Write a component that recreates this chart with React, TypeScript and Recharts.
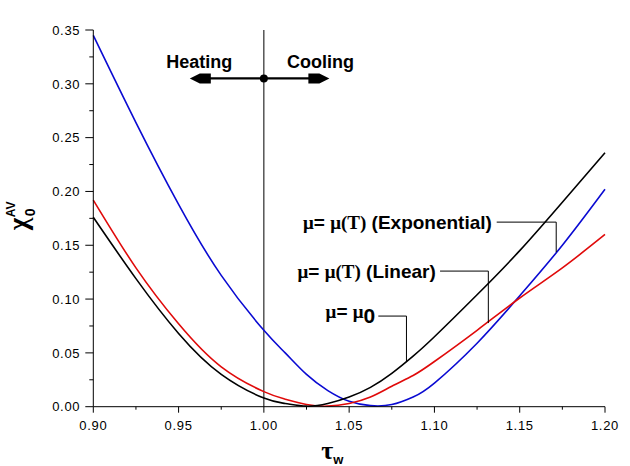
import React from 'react';
import { LineChart, Line, XAxis, YAxis, ReferenceLine, ReferenceDot } from 'recharts';

// tau_w values
const tauW = [0.9, 0.925, 0.95, 0.975, 1.0, 1.0125, 1.025, 1.0375, 1.05, 1.0625, 1.075, 1.0875, 1.1, 1.125, 1.15, 1.175, 1.2];
// mu = mu0 (black)
const muConst = [0.176, 0.119, 0.068, 0.030, 0.008, 0.003, 0.0005, 0.003, 0.009, 0.018, 0.031, 0.047, 0.065, 0.104, 0.145, 0.190, 0.236];
// mu = mu(T) linear (red)
const muLinear = [0.192, 0.129, 0.077, 0.037, 0.014, 0.007, 0.002, 0.0005, 0.003, 0.009, 0.019, 0.029, 0.042, 0.071, 0.101, 0.129, 0.160];
// mu = mu(T) exponential (blue)
const muExp = [0.345, 0.264, 0.188, 0.122, 0.071, 0.050, 0.030, 0.015, 0.005, 0.001, 0.002, 0.009, 0.022, 0.059, 0.103, 0.150, 0.202];

const xTicks = [0.9, 0.925, 0.95, 0.975, 1.0, 1.025, 1.05, 1.075, 1.1, 1.125, 1.15, 1.175, 1.2];
const yTicks = [0, 0.025, 0.05, 0.075, 0.1, 0.125, 0.15, 0.175, 0.2, 0.225, 0.25, 0.275, 0.3, 0.325, 0.35];
const topTicks = [0.9, 0.93, 0.96, 0.99, 1.02, 1.05, 1.08, 1.11, 1.14, 1.17, 1.2];
const rightTicks = [0, 0.035, 0.07, 0.105, 0.14, 0.175, 0.21, 0.245, 0.28, 0.315, 0.35];

const data = tauW.map((t, i) => ({ tau: t, c: muConst[i], l: muLinear[i], e: muExp[i] }));

const SANS = '"Liberation Sans", Arial, sans-serif';
const SERIF = '"Liberation Serif", "Times New Roman", serif';

const isMajor = (v: number, step: number) => Math.abs(v / step - Math.round(v / step)) < 1e-6;

const BottomTick = (props: any) => {
  const { x, y, payload } = props;
  const v = payload.value;
  const major = isMajor(v, 0.05);
  return (
    <g>
      <line x1={x} x2={x} y1={y} y2={y + (major ? 6 : 3)} stroke="#000" strokeWidth={1} />
      {major && (
        <text x={x} y={y + 23} textAnchor="middle" fontSize={13} fontFamily={SANS} letterSpacing={0.7} fill="#000">
          {v.toFixed(2)}
        </text>
      )}
    </g>
  );
};

const LeftTick = (props: any) => {
  const { x, y, payload } = props;
  const v = payload.value;
  const major = isMajor(v, 0.05);
  return (
    <g>
      <line x1={x - (major ? 8 : 4)} x2={x} y1={y} y2={y} stroke="#000" strokeWidth={1} />
      {major && (
        <text x={x - 13} y={y + 4.7} textAnchor="end" fontSize={13} fontFamily={SANS} letterSpacing={0.7} fill="#000">
          {v.toFixed(2)}
        </text>
      )}
    </g>
  );
};

const TopTick = (props: any) => {
  const { x, y } = props;
  return <line x1={x} x2={x} y1={y} y2={y + 5} stroke="#000" strokeWidth={1} />;
};

const RightTick = (props: any) => {
  const { x, y } = props;
  return <line x1={x - 5} x2={x} y1={y} y2={y} stroke="#000" strokeWidth={1} />;
};

const YLabel = (props: any) => {
  const vb = props.viewBox || { x: 33, y: 30, width: 60, height: 377 };
  const cx = vb.x - 6.5;
  const cy = vb.y + vb.height / 2;
  return (
    <text transform={`rotate(-90, ${cx}, ${cy})`} x={cx - 12} y={cy} fill="#000" fontWeight="bold">
      <tspan fontFamily={SERIF} fontSize={27}>χ</tspan>
      <tspan x={cx + 2} y={cy + 8.5} fontFamily={SANS} fontSize={14}>0</tspan>
      <tspan x={cx + 1} y={cy - 12} fontFamily={SANS} fontSize={12}>AV</tspan>
    </text>
  );
};

const XLabel = (props: any) => {
  const vb = props.viewBox || { x: 93, y: 407, width: 512, height: 30 };
  const x0 = vb.x + 228;
  return (
    <text x={x0} y={459} fill="#000" fontWeight="bold">
      <tspan fontFamily={SERIF} fontSize={26}>τ</tspan>
      <tspan dx={0} dy={5} fontFamily={SANS} fontSize={13}>w</tspan>
    </text>
  );
};

const makeText = (parts: { t: string; serif?: boolean; sub?: boolean }[], anchor: string, dy: number, size: number) => (p: any) => (
  <text x={p.cx} y={p.cy + dy} textAnchor={anchor} fill="#000" fontWeight="bold" fontSize={size}>
    {parts.map((pt, i) => (
      <tspan key={i} fontFamily={pt.serif ? SERIF : SANS} dy={pt.sub ? 5 : 0} fontSize={pt.sub ? size + 2 : size}>
        {pt.t}
      </tspan>
    ))}
  </text>
);

const leftArrow = (p: any) => (
  <polygon
    points={`${p.cx},${p.cy} ${p.cx + 10},${p.cy - 5} ${p.cx + 21},${p.cy - 5} ${p.cx + 21},${p.cy + 5} ${p.cx + 10},${p.cy + 5}`}
    fill="#000"
  />
);
const rightArrow = (p: any) => (
  <polygon
    points={`${p.cx},${p.cy} ${p.cx - 10},${p.cy - 5} ${p.cx - 21},${p.cy - 5} ${p.cx - 21},${p.cy + 5} ${p.cx - 10},${p.cy + 5}`}
    fill="#000"
  />
);

export default function App() {
  return (
    <div style={{ position: 'absolute', left: 0, top: 0, width: 630, height: 466, background: '#fff' }}>
      <LineChart width={630} height={466} data={data} margin={{ top: 30, right: 25, bottom: 29.3, left: 33.3 }}>
        <XAxis
          xAxisId="b"
          dataKey="tau"
          type="number"
          domain={[0.9, 1.2]}
          ticks={xTicks}
          interval={0}
          height={30}
          tickSize={0}
          tickMargin={0}
          tick={<BottomTick />}
          axisLine={{ stroke: '#000', strokeWidth: 1 }}
          tickLine={false}
          label={<XLabel />}
        />
        <XAxis
          xAxisId="t"
          orientation="top"
          type="number"
          domain={[0.9, 1.2]}
          ticks={topTicks}
          interval={0}
          height={0}
          tickSize={0}
          tickMargin={0}
          tick={<TopTick />}
          axisLine={{ stroke: '#000', strokeWidth: 1 }}
          tickLine={false}
        />
        <YAxis
          yAxisId="l"
          type="number"
          domain={[0, 0.35]}
          ticks={yTicks}
          interval={0}
          width={60}
          tickSize={0}
          tickMargin={0}
          tick={<LeftTick />}
          axisLine={{ stroke: '#000', strokeWidth: 1 }}
          tickLine={false}
          label={<YLabel />}
        />
        <YAxis
          yAxisId="r"
          orientation="right"
          type="number"
          domain={[0, 0.35]}
          ticks={rightTicks}
          interval={0}
          width={0}
          tickSize={0}
          tickMargin={0}
          tick={<RightTick />}
          axisLine={{ stroke: '#000', strokeWidth: 1 }}
          tickLine={false}
        />

        <ReferenceLine xAxisId="b" yAxisId="l" x={1.0} stroke="#000" strokeWidth={1} />

        <Line xAxisId="b" yAxisId="l" type="natural" dataKey="e" stroke="#0a0ad2" strokeWidth={1.6} dot={false} isAnimationActive={false} />
        <Line xAxisId="b" yAxisId="l" type="natural" dataKey="l" stroke="#e00a0a" strokeWidth={1.6} dot={false} isAnimationActive={false} />
        <Line xAxisId="b" yAxisId="l" type="natural" dataKey="c" stroke="#000" strokeWidth={1.6} dot={false} isAnimationActive={false} />

        {/* Heating / Cooling arrow */}
        <ReferenceLine xAxisId="b" yAxisId="l" segment={[{ x: 0.962, y: 0.305 }, { x: 1.033, y: 0.305 }]} stroke="#000" strokeWidth={2.2} />
        <ReferenceDot xAxisId="b" yAxisId="l" x={0.9566} y={0.305} r={5} shape={leftArrow} ifOverflow="visible" />
        <ReferenceDot xAxisId="b" yAxisId="l" x={1.0384} y={0.305} r={5} shape={rightArrow} ifOverflow="visible" />
        <ReferenceDot xAxisId="b" yAxisId="l" x={1.0} y={0.305} r={4} fill="#000" stroke="none" ifOverflow="visible" />
        <ReferenceDot xAxisId="b" yAxisId="l" x={0.9621} y={0.3145} r={1} shape={makeText([{ t: 'Heating' }], 'middle', 0, 18)} ifOverflow="visible" />
        <ReferenceDot xAxisId="b" yAxisId="l" x={1.0332} y={0.3145} r={1} shape={makeText([{ t: 'Cooling' }], 'middle', 0, 18)} ifOverflow="visible" />

        {/* Exponential label */}
        <ReferenceDot
          xAxisId="b"
          yAxisId="l"
          x={1.1337}
          y={0.1715}
          r={1}
          ifOverflow="visible"
          shape={makeText([{ t: 'μ', serif: true }, { t: '= ' }, { t: 'μ(T)', serif: true }, { t: ' (Exponential)' }], 'end', 6.5, 19)}
        />
        <ReferenceLine xAxisId="b" yAxisId="l" segment={[{ x: 1.1365, y: 0.1715 }, { x: 1.1714, y: 0.1715 }]} stroke="#000" strokeWidth={1} />
        <ReferenceLine xAxisId="b" yAxisId="l" segment={[{ x: 1.1714, y: 0.1715 }, { x: 1.1714, y: 0.1436 }]} stroke="#000" strokeWidth={1} />

        {/* Linear label */}
        <ReferenceDot
          xAxisId="b"
          yAxisId="l"
          x={1.1008}
          y={0.126}
          r={1}
          ifOverflow="visible"
          shape={makeText([{ t: 'μ', serif: true }, { t: '= ' }, { t: 'μ(T)', serif: true }, { t: ' (Linear)' }], 'end', 6.5, 19)}
        />
        <ReferenceLine xAxisId="b" yAxisId="l" segment={[{ x: 1.1033, y: 0.126 }, { x: 1.1316, y: 0.126 }]} stroke="#000" strokeWidth={1} />
        <ReferenceLine xAxisId="b" yAxisId="l" segment={[{ x: 1.1316, y: 0.126 }, { x: 1.1316, y: 0.0777 }]} stroke="#000" strokeWidth={1} />

        {/* mu0 label */}
        <ReferenceDot
          xAxisId="b"
          yAxisId="l"
          x={1.0653}
          y={0.0842}
          r={1}
          ifOverflow="visible"
          shape={makeText([{ t: 'μ', serif: true }, { t: '= ' }, { t: 'μ', serif: true }, { t: '0', sub: true }], 'end', 2, 19)}
        />
        <ReferenceLine xAxisId="b" yAxisId="l" segment={[{ x: 1.0671, y: 0.0842 }, { x: 1.0836, y: 0.0842 }]} stroke="#000" strokeWidth={1} />
        <ReferenceLine xAxisId="b" yAxisId="l" segment={[{ x: 1.0836, y: 0.0842 }, { x: 1.0836, y: 0.0418 }]} stroke="#000" strokeWidth={1} />
      </LineChart>
    </div>
  );
}
